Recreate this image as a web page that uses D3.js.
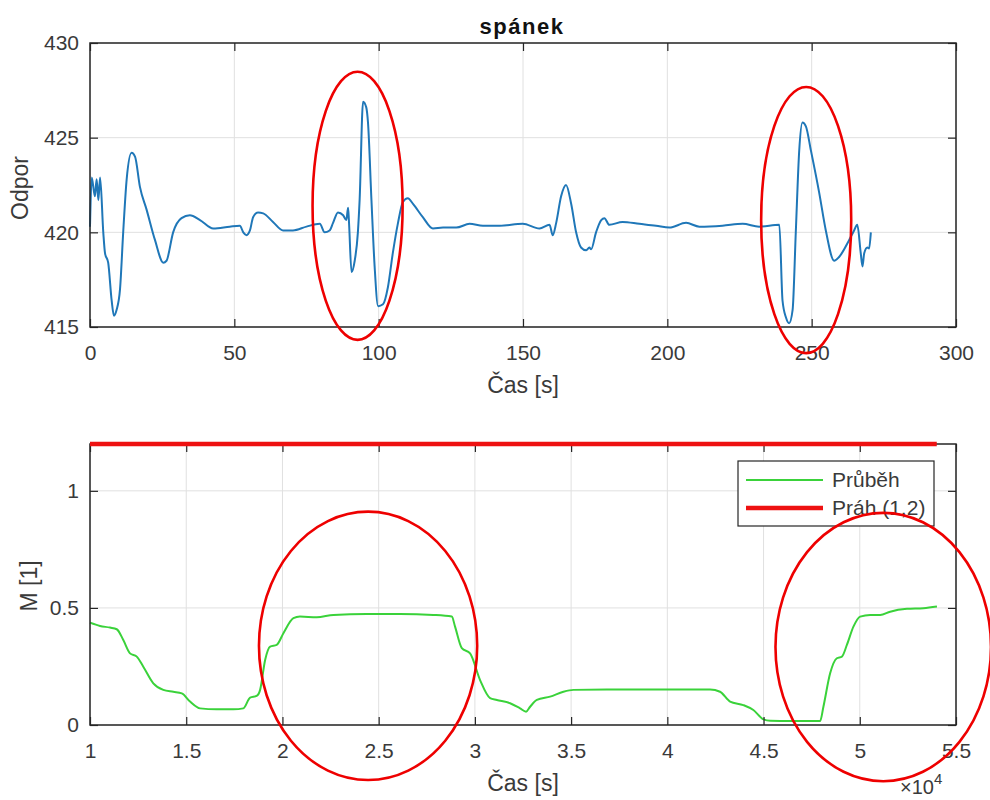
<!DOCTYPE html>
<html><head><meta charset="utf-8">
<script src="https://cdn.jsdelivr.net/npm/d3@7"></script>
<style>body{margin:0;background:#fff} text{font-family:"Liberation Sans",Arial,Helvetica,sans-serif}</style>
</head><body><svg id="c" width="990" height="800"></svg>
<script>
// ---------- DATA ----------
const topTitle = "spánek";
const topXLabel = "Čas [s]";
const topYLabel = "Odpor";
const topXTicks = [0, 50, 100, 150, 200, 250, 300];
const topYTicks = [415, 420, 425, 430];
const topTime = [0,0.6,1.7,2.3,2.9,3.5,4.6,5.2,6.3,7.5,8.3,9.2,10.4,11.5,12.7,14.4,15.6,17.3,19.6,22.5,25.4,26.5,28.8,31.7,34.6,38.1,42.7,48.4,51.9,53.1,54.2,55.4,56.5,58.2,60.0,63.4,66.9,70.3,75.0,79.6,81.3,83.0,84.2,85.9,87.7,88.8,89.4,89.7,90.6,91.7,92.8,93.4,94.6,95.7,96.3,97.5,98.6,99.8,101.5,103.2,104.9,106.7,108.4,110.1,111.9,115.3,118.8,122.3,126.9,131.5,136.1,141.9,149.9,155.7,159.2,160.3,161.5,163.2,164.9,166.7,168.4,170.1,171.9,173.0,173.6,175.3,177.1,178.2,179.9,184.5,190.3,196.1,200.7,206.5,211.1,219.1,226.1,231.8,238.8,239.9,241.1,242.2,243.4,244.5,245.7,246.8,248.0,249.7,252.6,254.9,257.8,259.5,263.0,264.7,265.8,267.0,267.6,268.2,269.3,269.9,270.5];
const topValue = [420.3,422.9,421.9,422.8,421.7,422.9,420.0,418.9,418.4,416.4,415.6,415.9,417.0,420.0,422.8,424.2,424.0,422.4,421.2,419.6,418.4,418.5,420.0,420.75,420.9,420.65,420.2,420.3,420.35,420.0,419.85,420.1,420.8,421.05,421.0,420.55,420.1,420.1,420.3,420.45,420.0,420.1,420.5,421.05,420.9,420.65,421.3,420.6,417.9,418.5,420.0,421.7,426.9,426.6,425.8,421.7,418.2,416.1,416.2,417.1,418.9,420.5,421.6,421.8,421.5,420.8,420.2,420.25,420.25,420.45,420.35,420.35,420.45,420.2,420.4,419.85,420.5,421.9,422.5,421.5,420.0,419.2,419.05,419.2,419.1,420.0,420.65,420.75,420.4,420.55,420.45,420.35,420.25,420.5,420.3,420.35,420.45,420.3,420.4,416.4,415.5,415.2,415.9,420.0,424.35,425.8,425.6,424.35,422.1,420.1,418.5,418.7,419.6,420.1,420.4,418.9,418.2,418.9,419.2,419.15,420.0];
// annotation ellipses (data units): [cx, cy, rx, ry]
const topMarks = [[92.7, 421.4, 15.6, 7.08], [248.1, 420.65, 15.6, 7.03]];

const botXLabel = "Čas [s]";
const botYLabel = "M [1]";
const botXTicks = [10000,15000,20000,25000,30000,35000,40000,45000,50000,55000];
const botYTicks = [0, 0.5, 1];
const botExponent = "4";
const botTime = [10000,10520,11040,11390,11730,12080,12430,12770,13290,13810,14330,14770,15200,15720,16580,17450,17970,18320,18660,18840,19100,19360,19700,20050,20570,20910,21780,22650,24380,26110,27840,28800,28970,29320,29750,30270,30790,31140,31830,32350,32660,32870,33220,33910,34600,35120,36850,39450,42220,42740,43260,43950,44470,45000,45340,46380,47940,48110,48460,48810,49070,49330,49670,50020,50540,51060,51580,52450,53310,54010];
const botValue = [0.437,0.423,0.416,0.409,0.363,0.306,0.292,0.249,0.178,0.150,0.142,0.135,0.100,0.071,0.067,0.067,0.071,0.117,0.124,0.150,0.278,0.335,0.342,0.392,0.456,0.463,0.460,0.470,0.474,0.474,0.470,0.463,0.420,0.328,0.306,0.192,0.115,0.107,0.093,0.071,0.057,0.078,0.107,0.121,0.142,0.150,0.152,0.152,0.152,0.142,0.100,0.085,0.064,0.024,0.018,0.017,0.017,0.078,0.221,0.285,0.292,0.342,0.420,0.463,0.470,0.470,0.484,0.496,0.499,0.506];
const thresholdValue = 1.2;
const thresholdTime = [10000, 54000];
const legendNames = ["Průběh", "Práh (1,2)"];
const botMarks = [[24450, 0.338, 5670, 0.573], [51220, 0.333, 5600, 0.573]];

// ---------- STYLE ----------
const C_AX = "#262626", C_TXT = "#3a3a3a", C_GRID = "#e0e0e0";
const C_BLUE = "#1f77b8", C_GREEN = "#3ad23a", C_RED = "#ee1111", C_MARK = "#ee0000";
const FS_TICK = 21, FS_LAB = 23;

const svg = d3.select("#c");
svg.append("rect").attr("width",990).attr("height",800).attr("fill","#fff");

function panel(x, y, xTicks, yTicks) {
  const g = svg.append("g");
  const [x0, x1] = x.range(), [y0, y1] = y.range();
  g.append("g").selectAll("line").data(xTicks).join("line")
    .attr("x1", d => x(d)).attr("x2", d => x(d)).attr("y1", y1).attr("y2", y0)
    .attr("stroke", C_GRID).attr("stroke-width", 1);
  g.append("g").selectAll("line").data(yTicks).join("line")
    .attr("y1", d => y(d)).attr("y2", d => y(d)).attr("x1", x0).attr("x2", x1)
    .attr("stroke", C_GRID).attr("stroke-width", 1);
  return g;
}
function frame(g, x, y, xTicks, yTicks, xFmt, yFmt) {
  const [x0, x1] = x.range(), [y0, y1] = y.range();
  const style = sel => {
    sel.select(".domain").remove();
    sel.selectAll("line").attr("stroke", C_AX).attr("stroke-width", 1.2);
    sel.selectAll("text").attr("font-size", FS_TICK).attr("fill", C_TXT).attr("font-family", '"Liberation Sans",Arial,sans-serif');
  };
  g.append("g").attr("transform", `translate(0,${y0})`)
    .call(d3.axisBottom(x).tickValues(xTicks).tickSize(-8).tickPadding(18).tickFormat(xFmt)).call(style);
  g.append("g").attr("transform", `translate(0,${y1})`)
    .call(d3.axisTop(x).tickValues(xTicks).tickSize(-8).tickFormat("")).call(style);
  g.append("g").attr("transform", `translate(${x0},0)`)
    .call(d3.axisLeft(y).tickValues(yTicks).tickSize(-8).tickPadding(11).tickFormat(yFmt)).call(style);
  g.append("g").attr("transform", `translate(${x1},0)`)
    .call(d3.axisRight(y).tickValues(yTicks).tickSize(-8).tickFormat("")).call(style);
  g.append("rect").attr("x", x0).attr("y", y1).attr("width", x1 - x0).attr("height", y0 - y1)
    .attr("fill", "none").attr("stroke", C_AX).attr("stroke-width", 1.5);
}
function marks(g, x, y, list) {
  g.append("g").selectAll("ellipse").data(list).join("ellipse")
    .attr("cx", d => x(d[0])).attr("cy", d => y(d[1]))
    .attr("rx", d => Math.abs(x(d[0] + d[2]) - x(d[0])))
    .attr("ry", d => Math.abs(y(d[1] + d[3]) - y(d[1])))
    .attr("fill", "none").attr("stroke", C_MARK).attr("stroke-width", 2.6);
}

// ---------- TOP ----------
const xT = d3.scaleLinear().domain([0, 300]).range([90, 956]);
const yT = d3.scaleLinear().domain([415, 430]).range([327, 43]);
const gT = panel(xT, yT, topXTicks, topYTicks);
const topData = topTime.map((t, i) => [t, topValue[i]]);
gT.append("path").datum(topData)
  .attr("d", d3.line().x(d => xT(d[0])).y(d => yT(d[1])).curve(d3.curveMonotoneX))
  .attr("fill", "none").attr("stroke", C_BLUE).attr("stroke-width", 2).attr("stroke-linejoin", "round");
frame(gT, xT, yT, topXTicks, topYTicks, d3.format("d"), d3.format("d"));
gT.append("text").attr("x", 522).attr("y", 34).attr("text-anchor", "middle")
  .attr("font-size", 22).attr("font-weight", "bold").attr("letter-spacing", 1.5).attr("fill", "#111").text(topTitle);
gT.append("text").attr("x", 523).attr("y", 393).attr("text-anchor", "middle")
  .attr("font-size", FS_LAB).attr("fill", C_TXT).text(topXLabel);
gT.append("text").attr("transform", "translate(28,188) rotate(-90)").attr("text-anchor", "middle")
  .attr("font-size", FS_LAB).attr("fill", C_TXT).text(topYLabel);
marks(gT, xT, yT, topMarks);

// ---------- BOTTOM ----------
const xB = d3.scaleLinear().domain([10000, 55000]).range([90, 956]);
const yB = d3.scaleLinear().domain([0, 1.2]).range([725, 444]);
const gB = panel(xB, yB, botXTicks, botYTicks);
const botData = botTime.map((t, i) => [t, botValue[i]]);
gB.append("path").datum(botData)
  .attr("d", d3.line().x(d => xB(d[0])).y(d => yB(d[1])).curve(d3.curveMonotoneX))
  .attr("fill", "none").attr("stroke", C_GREEN).attr("stroke-width", 2).attr("stroke-linejoin", "round");
frame(gB, xB, yB, botXTicks, botYTicks, d => String(d / 1e4), d => String(d));
gB.append("line").attr("x1", xB(thresholdTime[0])).attr("x2", xB(thresholdTime[1]))
  .attr("y1", yB(thresholdValue)).attr("y2", yB(thresholdValue))
  .attr("stroke", C_RED).attr("stroke-width", 4.5);
gB.append("text").attr("x", 523).attr("y", 791).attr("text-anchor", "middle")
  .attr("font-size", FS_LAB).attr("fill", C_TXT).text(botXLabel);
gB.append("text").attr("transform", "translate(37,586) rotate(-90)").attr("text-anchor", "middle")
  .attr("font-size", FS_LAB).attr("fill", C_TXT).text(botYLabel);
const ex = gB.append("text").attr("x", 900).attr("y", 794).attr("font-size", 20).attr("fill", C_TXT);
ex.append("tspan").text("×10");
ex.append("tspan").attr("dy", -10).attr("font-size", 15).text(botExponent);

// legend
const lg = gB.append("g");
lg.append("rect").attr("x", 738).attr("y", 461).attr("width", 196).attr("height", 65)
  .attr("fill", "#fff").attr("stroke", C_AX).attr("stroke-width", 1.2);
const legColors = [C_GREEN, C_RED], legWidths = [2, 4.5];
legendNames.forEach((name, i) => {
  const yy = 480 + i * 28;
  lg.append("line").attr("x1", 746).attr("x2", 823).attr("y1", yy).attr("y2", yy)
    .attr("stroke", legColors[i]).attr("stroke-width", legWidths[i]);
  lg.append("text").attr("x", 832).attr("y", yy).attr("dy", "0.35em")
    .attr("font-size", FS_TICK).attr("fill", C_TXT).text(name);
});
marks(gB, xB, yB, botMarks);
</script></body></html>
